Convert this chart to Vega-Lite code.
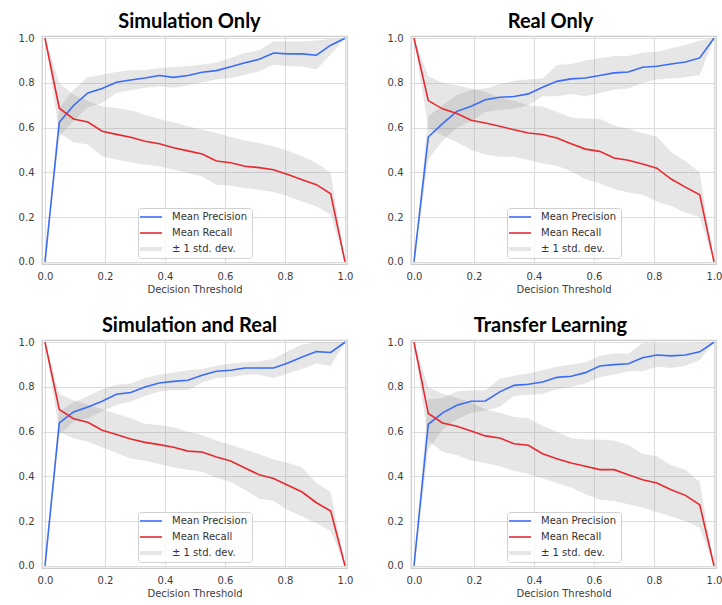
{
  "$schema": "https://vega.github.io/schema/vega-lite/v6.json",
  "autosize": {"type": "pad"},
  "padding": {"left": 17, "top": 11, "right": 0, "bottom": 0},
  "datasets": {
    "curves": [
      {"p":"Simulation Only","m":"Mean Precision","t":0,"v":0,"lo":0,"hi":0},
      {"p":"Simulation Only","m":"Mean Precision","t":0.0476,"v":0.624,"lo":0.56,"hi":0.69},
      {"p":"Simulation Only","m":"Mean Precision","t":0.0952,"v":0.699,"lo":0.63,"hi":0.77},
      {"p":"Simulation Only","m":"Mean Precision","t":0.1429,"v":0.755,"lo":0.69,"hi":0.825},
      {"p":"Simulation Only","m":"Mean Precision","t":0.1905,"v":0.775,"lo":0.71,"hi":0.837},
      {"p":"Simulation Only","m":"Mean Precision","t":0.2381,"v":0.803,"lo":0.755,"hi":0.849},
      {"p":"Simulation Only","m":"Mean Precision","t":0.2857,"v":0.813,"lo":0.767,"hi":0.857},
      {"p":"Simulation Only","m":"Mean Precision","t":0.3333,"v":0.822,"lo":0.778,"hi":0.858},
      {"p":"Simulation Only","m":"Mean Precision","t":0.381,"v":0.833,"lo":0.785,"hi":0.867},
      {"p":"Simulation Only","m":"Mean Precision","t":0.4286,"v":0.825,"lo":0.778,"hi":0.87},
      {"p":"Simulation Only","m":"Mean Precision","t":0.4762,"v":0.833,"lo":0.79,"hi":0.875},
      {"p":"Simulation Only","m":"Mean Precision","t":0.5238,"v":0.848,"lo":0.803,"hi":0.882},
      {"p":"Simulation Only","m":"Mean Precision","t":0.5714,"v":0.855,"lo":0.815,"hi":0.89},
      {"p":"Simulation Only","m":"Mean Precision","t":0.619,"v":0.872,"lo":0.822,"hi":0.912},
      {"p":"Simulation Only","m":"Mean Precision","t":0.6667,"v":0.89,"lo":0.837,"hi":0.934},
      {"p":"Simulation Only","m":"Mean Precision","t":0.7143,"v":0.906,"lo":0.852,"hi":0.946},
      {"p":"Simulation Only","m":"Mean Precision","t":0.7619,"v":0.934,"lo":0.882,"hi":0.985},
      {"p":"Simulation Only","m":"Mean Precision","t":0.8095,"v":0.93,"lo":0.875,"hi":0.985},
      {"p":"Simulation Only","m":"Mean Precision","t":0.8571,"v":0.93,"lo":0.873,"hi":0.985},
      {"p":"Simulation Only","m":"Mean Precision","t":0.9048,"v":0.924,"lo":0.86,"hi":0.99},
      {"p":"Simulation Only","m":"Mean Precision","t":0.9524,"v":0.969,"lo":0.927,"hi":0.997},
      {"p":"Simulation Only","m":"Mean Precision","t":1,"v":1,"lo":1,"hi":1},
      {"p":"Simulation Only","m":"Mean Recall","t":0,"v":1,"lo":1,"hi":1},
      {"p":"Simulation Only","m":"Mean Recall","t":0.0476,"v":0.687,"lo":0.576,"hi":0.8},
      {"p":"Simulation Only","m":"Mean Recall","t":0.0952,"v":0.639,"lo":0.535,"hi":0.748},
      {"p":"Simulation Only","m":"Mean Recall","t":0.1429,"v":0.625,"lo":0.525,"hi":0.718},
      {"p":"Simulation Only","m":"Mean Recall","t":0.1905,"v":0.584,"lo":0.472,"hi":0.696},
      {"p":"Simulation Only","m":"Mean Recall","t":0.2381,"v":0.57,"lo":0.457,"hi":0.688},
      {"p":"Simulation Only","m":"Mean Recall","t":0.2857,"v":0.557,"lo":0.445,"hi":0.678},
      {"p":"Simulation Only","m":"Mean Recall","t":0.3333,"v":0.539,"lo":0.434,"hi":0.658},
      {"p":"Simulation Only","m":"Mean Recall","t":0.381,"v":0.528,"lo":0.427,"hi":0.639},
      {"p":"Simulation Only","m":"Mean Recall","t":0.4286,"v":0.51,"lo":0.412,"hi":0.624},
      {"p":"Simulation Only","m":"Mean Recall","t":0.4762,"v":0.496,"lo":0.397,"hi":0.606},
      {"p":"Simulation Only","m":"Mean Recall","t":0.5238,"v":0.482,"lo":0.382,"hi":0.591},
      {"p":"Simulation Only","m":"Mean Recall","t":0.5714,"v":0.451,"lo":0.345,"hi":0.576},
      {"p":"Simulation Only","m":"Mean Recall","t":0.619,"v":0.443,"lo":0.34,"hi":0.558},
      {"p":"Simulation Only","m":"Mean Recall","t":0.6667,"v":0.427,"lo":0.33,"hi":0.543},
      {"p":"Simulation Only","m":"Mean Recall","t":0.7143,"v":0.421,"lo":0.322,"hi":0.531},
      {"p":"Simulation Only","m":"Mean Recall","t":0.7619,"v":0.412,"lo":0.312,"hi":0.516},
      {"p":"Simulation Only","m":"Mean Recall","t":0.8095,"v":0.39,"lo":0.293,"hi":0.497},
      {"p":"Simulation Only","m":"Mean Recall","t":0.8571,"v":0.367,"lo":0.27,"hi":0.472},
      {"p":"Simulation Only","m":"Mean Recall","t":0.9048,"v":0.345,"lo":0.248,"hi":0.442},
      {"p":"Simulation Only","m":"Mean Recall","t":0.9524,"v":0.304,"lo":0.21,"hi":0.397},
      {"p":"Simulation Only","m":"Mean Recall","t":1,"v":0,"lo":0,"hi":0},

      {"p":"Real Only","m":"Mean Precision","t":0,"v":0,"lo":0,"hi":0},
      {"p":"Real Only","m":"Mean Precision","t":0.0476,"v":0.558,"lo":0.46,"hi":0.65},
      {"p":"Real Only","m":"Mean Precision","t":0.0952,"v":0.618,"lo":0.54,"hi":0.7},
      {"p":"Real Only","m":"Mean Precision","t":0.1429,"v":0.673,"lo":0.6,"hi":0.745},
      {"p":"Real Only","m":"Mean Precision","t":0.1905,"v":0.696,"lo":0.63,"hi":0.77},
      {"p":"Real Only","m":"Mean Precision","t":0.2381,"v":0.725,"lo":0.67,"hi":0.775},
      {"p":"Real Only","m":"Mean Precision","t":0.2857,"v":0.736,"lo":0.68,"hi":0.795},
      {"p":"Real Only","m":"Mean Precision","t":0.3333,"v":0.739,"lo":0.685,"hi":0.81},
      {"p":"Real Only","m":"Mean Precision","t":0.381,"v":0.751,"lo":0.7,"hi":0.815},
      {"p":"Real Only","m":"Mean Precision","t":0.4286,"v":0.781,"lo":0.74,"hi":0.82},
      {"p":"Real Only","m":"Mean Precision","t":0.4762,"v":0.807,"lo":0.74,"hi":0.88},
      {"p":"Real Only","m":"Mean Precision","t":0.5238,"v":0.818,"lo":0.75,"hi":0.885},
      {"p":"Real Only","m":"Mean Precision","t":0.5714,"v":0.822,"lo":0.74,"hi":0.9},
      {"p":"Real Only","m":"Mean Precision","t":0.619,"v":0.833,"lo":0.755,"hi":0.91},
      {"p":"Real Only","m":"Mean Precision","t":0.6667,"v":0.845,"lo":0.77,"hi":0.92},
      {"p":"Real Only","m":"Mean Precision","t":0.7143,"v":0.849,"lo":0.775,"hi":0.92},
      {"p":"Real Only","m":"Mean Precision","t":0.7619,"v":0.87,"lo":0.8,"hi":0.935},
      {"p":"Real Only","m":"Mean Precision","t":0.8095,"v":0.875,"lo":0.815,"hi":0.94},
      {"p":"Real Only","m":"Mean Precision","t":0.8571,"v":0.885,"lo":0.82,"hi":0.955},
      {"p":"Real Only","m":"Mean Precision","t":0.9048,"v":0.894,"lo":0.825,"hi":0.97},
      {"p":"Real Only","m":"Mean Precision","t":0.9524,"v":0.912,"lo":0.835,"hi":0.99},
      {"p":"Real Only","m":"Mean Precision","t":1,"v":1,"lo":1,"hi":1},
      {"p":"Real Only","m":"Mean Recall","t":0,"v":1,"lo":1,"hi":1},
      {"p":"Real Only","m":"Mean Recall","t":0.0476,"v":0.721,"lo":0.6,"hi":0.83},
      {"p":"Real Only","m":"Mean Recall","t":0.0952,"v":0.684,"lo":0.565,"hi":0.8},
      {"p":"Real Only","m":"Mean Recall","t":0.1429,"v":0.663,"lo":0.535,"hi":0.79},
      {"p":"Real Only","m":"Mean Recall","t":0.1905,"v":0.633,"lo":0.5,"hi":0.775},
      {"p":"Real Only","m":"Mean Recall","t":0.2381,"v":0.621,"lo":0.48,"hi":0.76},
      {"p":"Real Only","m":"Mean Recall","t":0.2857,"v":0.606,"lo":0.47,"hi":0.735},
      {"p":"Real Only","m":"Mean Recall","t":0.3333,"v":0.591,"lo":0.47,"hi":0.72},
      {"p":"Real Only","m":"Mean Recall","t":0.381,"v":0.576,"lo":0.455,"hi":0.7},
      {"p":"Real Only","m":"Mean Recall","t":0.4286,"v":0.569,"lo":0.44,"hi":0.695},
      {"p":"Real Only","m":"Mean Recall","t":0.4762,"v":0.554,"lo":0.43,"hi":0.67},
      {"p":"Real Only","m":"Mean Recall","t":0.5238,"v":0.528,"lo":0.405,"hi":0.645},
      {"p":"Real Only","m":"Mean Recall","t":0.5714,"v":0.504,"lo":0.37,"hi":0.64},
      {"p":"Real Only","m":"Mean Recall","t":0.619,"v":0.494,"lo":0.35,"hi":0.64},
      {"p":"Real Only","m":"Mean Recall","t":0.6667,"v":0.464,"lo":0.325,"hi":0.61},
      {"p":"Real Only","m":"Mean Recall","t":0.7143,"v":0.454,"lo":0.31,"hi":0.595},
      {"p":"Real Only","m":"Mean Recall","t":0.7619,"v":0.437,"lo":0.3,"hi":0.575},
      {"p":"Real Only","m":"Mean Recall","t":0.8095,"v":0.419,"lo":0.27,"hi":0.56},
      {"p":"Real Only","m":"Mean Recall","t":0.8571,"v":0.37,"lo":0.25,"hi":0.49},
      {"p":"Real Only","m":"Mean Recall","t":0.9048,"v":0.334,"lo":0.22,"hi":0.45},
      {"p":"Real Only","m":"Mean Recall","t":0.9524,"v":0.3,"lo":0.2,"hi":0.4},
      {"p":"Real Only","m":"Mean Recall","t":1,"v":0,"lo":0,"hi":0},

      {"p":"Simulation and Real","m":"Mean Precision","t":0,"v":0,"lo":0,"hi":0},
      {"p":"Simulation and Real","m":"Mean Precision","t":0.0476,"v":0.639,"lo":0.585,"hi":0.69},
      {"p":"Simulation and Real","m":"Mean Precision","t":0.0952,"v":0.688,"lo":0.645,"hi":0.73},
      {"p":"Simulation and Real","m":"Mean Precision","t":0.1429,"v":0.71,"lo":0.66,"hi":0.76},
      {"p":"Simulation and Real","m":"Mean Precision","t":0.1905,"v":0.736,"lo":0.69,"hi":0.79},
      {"p":"Simulation and Real","m":"Mean Precision","t":0.2381,"v":0.767,"lo":0.72,"hi":0.81},
      {"p":"Simulation and Real","m":"Mean Precision","t":0.2857,"v":0.775,"lo":0.735,"hi":0.815},
      {"p":"Simulation and Real","m":"Mean Precision","t":0.3333,"v":0.8,"lo":0.76,"hi":0.84},
      {"p":"Simulation and Real","m":"Mean Precision","t":0.381,"v":0.818,"lo":0.78,"hi":0.855},
      {"p":"Simulation and Real","m":"Mean Precision","t":0.4286,"v":0.825,"lo":0.785,"hi":0.865},
      {"p":"Simulation and Real","m":"Mean Precision","t":0.4762,"v":0.83,"lo":0.785,"hi":0.875},
      {"p":"Simulation and Real","m":"Mean Precision","t":0.5238,"v":0.852,"lo":0.82,"hi":0.88},
      {"p":"Simulation and Real","m":"Mean Precision","t":0.5714,"v":0.87,"lo":0.84,"hi":0.895},
      {"p":"Simulation and Real","m":"Mean Precision","t":0.619,"v":0.875,"lo":0.845,"hi":0.905},
      {"p":"Simulation and Real","m":"Mean Precision","t":0.6667,"v":0.885,"lo":0.855,"hi":0.91},
      {"p":"Simulation and Real","m":"Mean Precision","t":0.7143,"v":0.885,"lo":0.855,"hi":0.915},
      {"p":"Simulation and Real","m":"Mean Precision","t":0.7619,"v":0.885,"lo":0.84,"hi":0.925},
      {"p":"Simulation and Real","m":"Mean Precision","t":0.8095,"v":0.907,"lo":0.86,"hi":0.96},
      {"p":"Simulation and Real","m":"Mean Precision","t":0.8571,"v":0.934,"lo":0.88,"hi":0.99},
      {"p":"Simulation and Real","m":"Mean Precision","t":0.9048,"v":0.958,"lo":0.905,"hi":1},
      {"p":"Simulation and Real","m":"Mean Precision","t":0.9524,"v":0.954,"lo":0.895,"hi":1},
      {"p":"Simulation and Real","m":"Mean Precision","t":1,"v":1,"lo":1,"hi":1},
      {"p":"Simulation and Real","m":"Mean Recall","t":0,"v":1,"lo":1,"hi":1},
      {"p":"Simulation and Real","m":"Mean Recall","t":0.0476,"v":0.699,"lo":0.6,"hi":0.77},
      {"p":"Simulation and Real","m":"Mean Recall","t":0.0952,"v":0.658,"lo":0.57,"hi":0.74},
      {"p":"Simulation and Real","m":"Mean Recall","t":0.1429,"v":0.642,"lo":0.555,"hi":0.72},
      {"p":"Simulation and Real","m":"Mean Recall","t":0.1905,"v":0.606,"lo":0.53,"hi":0.7},
      {"p":"Simulation and Real","m":"Mean Recall","t":0.2381,"v":0.587,"lo":0.505,"hi":0.68},
      {"p":"Simulation and Real","m":"Mean Recall","t":0.2857,"v":0.567,"lo":0.48,"hi":0.66},
      {"p":"Simulation and Real","m":"Mean Recall","t":0.3333,"v":0.552,"lo":0.47,"hi":0.635},
      {"p":"Simulation and Real","m":"Mean Recall","t":0.381,"v":0.542,"lo":0.455,"hi":0.63},
      {"p":"Simulation and Real","m":"Mean Recall","t":0.4286,"v":0.53,"lo":0.44,"hi":0.62},
      {"p":"Simulation and Real","m":"Mean Recall","t":0.4762,"v":0.513,"lo":0.43,"hi":0.6},
      {"p":"Simulation and Real","m":"Mean Recall","t":0.5238,"v":0.509,"lo":0.42,"hi":0.585},
      {"p":"Simulation and Real","m":"Mean Recall","t":0.5714,"v":0.487,"lo":0.395,"hi":0.56},
      {"p":"Simulation and Real","m":"Mean Recall","t":0.619,"v":0.469,"lo":0.375,"hi":0.54},
      {"p":"Simulation and Real","m":"Mean Recall","t":0.6667,"v":0.437,"lo":0.34,"hi":0.52},
      {"p":"Simulation and Real","m":"Mean Recall","t":0.7143,"v":0.407,"lo":0.3,"hi":0.5},
      {"p":"Simulation and Real","m":"Mean Recall","t":0.7619,"v":0.39,"lo":0.29,"hi":0.475},
      {"p":"Simulation and Real","m":"Mean Recall","t":0.8095,"v":0.36,"lo":0.25,"hi":0.46},
      {"p":"Simulation and Real","m":"Mean Recall","t":0.8571,"v":0.33,"lo":0.22,"hi":0.44},
      {"p":"Simulation and Real","m":"Mean Recall","t":0.9048,"v":0.282,"lo":0.19,"hi":0.37},
      {"p":"Simulation and Real","m":"Mean Recall","t":0.9524,"v":0.245,"lo":0.155,"hi":0.33},
      {"p":"Simulation and Real","m":"Mean Recall","t":1,"v":0,"lo":0,"hi":0},

      {"p":"Transfer Learning","m":"Mean Precision","t":0,"v":0,"lo":0,"hi":0},
      {"p":"Transfer Learning","m":"Mean Precision","t":0.0476,"v":0.633,"lo":0.52,"hi":0.745},
      {"p":"Transfer Learning","m":"Mean Precision","t":0.0952,"v":0.684,"lo":0.61,"hi":0.75},
      {"p":"Transfer Learning","m":"Mean Precision","t":0.1429,"v":0.718,"lo":0.655,"hi":0.78},
      {"p":"Transfer Learning","m":"Mean Precision","t":0.1905,"v":0.736,"lo":0.685,"hi":0.785},
      {"p":"Transfer Learning","m":"Mean Precision","t":0.2381,"v":0.737,"lo":0.695,"hi":0.785},
      {"p":"Transfer Learning","m":"Mean Precision","t":0.2857,"v":0.778,"lo":0.71,"hi":0.835},
      {"p":"Transfer Learning","m":"Mean Precision","t":0.3333,"v":0.807,"lo":0.76,"hi":0.85},
      {"p":"Transfer Learning","m":"Mean Precision","t":0.381,"v":0.812,"lo":0.765,"hi":0.86},
      {"p":"Transfer Learning","m":"Mean Precision","t":0.4286,"v":0.822,"lo":0.77,"hi":0.875},
      {"p":"Transfer Learning","m":"Mean Precision","t":0.4762,"v":0.843,"lo":0.79,"hi":0.89},
      {"p":"Transfer Learning","m":"Mean Precision","t":0.5238,"v":0.848,"lo":0.8,"hi":0.9},
      {"p":"Transfer Learning","m":"Mean Precision","t":0.5714,"v":0.864,"lo":0.815,"hi":0.91},
      {"p":"Transfer Learning","m":"Mean Precision","t":0.619,"v":0.894,"lo":0.845,"hi":0.94},
      {"p":"Transfer Learning","m":"Mean Precision","t":0.6667,"v":0.9,"lo":0.855,"hi":0.95},
      {"p":"Transfer Learning","m":"Mean Precision","t":0.7143,"v":0.904,"lo":0.87,"hi":0.95},
      {"p":"Transfer Learning","m":"Mean Precision","t":0.7619,"v":0.931,"lo":0.87,"hi":0.995},
      {"p":"Transfer Learning","m":"Mean Precision","t":0.8095,"v":0.943,"lo":0.89,"hi":0.995},
      {"p":"Transfer Learning","m":"Mean Precision","t":0.8571,"v":0.939,"lo":0.885,"hi":0.995},
      {"p":"Transfer Learning","m":"Mean Precision","t":0.9048,"v":0.943,"lo":0.895,"hi":0.995},
      {"p":"Transfer Learning","m":"Mean Precision","t":0.9524,"v":0.957,"lo":0.92,"hi":0.997},
      {"p":"Transfer Learning","m":"Mean Precision","t":1,"v":1,"lo":1,"hi":1},
      {"p":"Transfer Learning","m":"Mean Recall","t":0,"v":1,"lo":1,"hi":1},
      {"p":"Transfer Learning","m":"Mean Recall","t":0.0476,"v":0.681,"lo":0.56,"hi":0.8},
      {"p":"Transfer Learning","m":"Mean Recall","t":0.0952,"v":0.639,"lo":0.51,"hi":0.77},
      {"p":"Transfer Learning","m":"Mean Recall","t":0.1429,"v":0.624,"lo":0.495,"hi":0.75},
      {"p":"Transfer Learning","m":"Mean Recall","t":0.1905,"v":0.603,"lo":0.47,"hi":0.73},
      {"p":"Transfer Learning","m":"Mean Recall","t":0.2381,"v":0.581,"lo":0.46,"hi":0.7},
      {"p":"Transfer Learning","m":"Mean Recall","t":0.2857,"v":0.572,"lo":0.445,"hi":0.685},
      {"p":"Transfer Learning","m":"Mean Recall","t":0.3333,"v":0.546,"lo":0.425,"hi":0.665},
      {"p":"Transfer Learning","m":"Mean Recall","t":0.381,"v":0.539,"lo":0.41,"hi":0.66},
      {"p":"Transfer Learning","m":"Mean Recall","t":0.4286,"v":0.501,"lo":0.39,"hi":0.625},
      {"p":"Transfer Learning","m":"Mean Recall","t":0.4762,"v":0.479,"lo":0.37,"hi":0.6},
      {"p":"Transfer Learning","m":"Mean Recall","t":0.5238,"v":0.46,"lo":0.35,"hi":0.57},
      {"p":"Transfer Learning","m":"Mean Recall","t":0.5714,"v":0.445,"lo":0.32,"hi":0.565},
      {"p":"Transfer Learning","m":"Mean Recall","t":0.619,"v":0.43,"lo":0.295,"hi":0.565},
      {"p":"Transfer Learning","m":"Mean Recall","t":0.6667,"v":0.43,"lo":0.29,"hi":0.56},
      {"p":"Transfer Learning","m":"Mean Recall","t":0.7143,"v":0.407,"lo":0.275,"hi":0.54},
      {"p":"Transfer Learning","m":"Mean Recall","t":0.7619,"v":0.385,"lo":0.26,"hi":0.5},
      {"p":"Transfer Learning","m":"Mean Recall","t":0.8095,"v":0.37,"lo":0.24,"hi":0.49},
      {"p":"Transfer Learning","m":"Mean Recall","t":0.8571,"v":0.34,"lo":0.22,"hi":0.45},
      {"p":"Transfer Learning","m":"Mean Recall","t":0.9048,"v":0.315,"lo":0.2,"hi":0.43},
      {"p":"Transfer Learning","m":"Mean Recall","t":0.9524,"v":0.273,"lo":0.17,"hi":0.375},
      {"p":"Transfer Learning","m":"Mean Recall","t":1,"v":0,"lo":0,"hi":0}
    ]
  },
  "data": {"name": "curves"},
  "columns": 2,
  "spacing": {"row": 76, "column": 64},
  "bounds": "flush",
  "resolve": {"scale": {"color": "independent"}, "legend": {"color": "independent"}},
  "concat": [
    {
      "title": {"text": "Simulation Only", "dx": -5},
      "width": 305, "height": 228,
      "transform": [{"filter": "datum.p === 'Simulation Only'"}],
      "layer": [
        {"mark": {"type": "area", "fill": "#808080", "fillOpacity": 0.2},
         "encoding": {
           "x": {"field": "t", "type": "quantitative", "scale": {"domain": [-0.01, 1.0067], "nice": false, "zero": false}, "axis": {"values": [0, 0.2, 0.4, 0.6, 0.8, 1], "format": ".1f", "title": "Decision Threshold"}},
           "y": {"field": "lo", "type": "quantitative", "scale": {"domain": [-0.01, 1.01], "nice": false, "zero": false}, "axis": {"values": [0, 0.2, 0.4, 0.6, 0.8, 1], "format": ".1f", "title": null}},
           "y2": {"field": "hi"},
           "detail": {"field": "m", "type": "nominal"}}},
        {"mark": {"type": "line", "strokeWidth": 1.6},
         "encoding": {
           "x": {"field": "t", "type": "quantitative"},
           "y": {"field": "v", "type": "quantitative", "axis": {"values": [0, 0.2, 0.4, 0.6, 0.8, 1], "format": ".1f", "title": null}},
           "color": {"field": "m", "type": "nominal",
             "scale": {"domain": ["Mean Precision", "Mean Recall", "± 1 std. dev."], "range": ["#3b6cf5", "#e62a30", "#e6e6e6"]},
             "legend": {"encode": {"symbols": {"update": {
               "shape": {"signal": "datum.label === '± 1 std. dev.' ? 'M-2.2,-0.4H2.2V0.4H-2.2Z' : 'M-2.2,0H2.2'"},
               "fill": {"signal": "datum.label === '± 1 std. dev.' ? '#e6e6e6' : 'transparent'"},
               "strokeWidth": {"signal": "datum.label === '± 1 std. dev.' ? 0 : 1.6"}}}}}}}}
      ]
    },
    {
      "title": {"text": "Real Only", "dx": -13},
      "width": 305, "height": 228,
      "transform": [{"filter": "datum.p === 'Real Only'"}],
      "layer": [
        {"mark": {"type": "area", "fill": "#808080", "fillOpacity": 0.2},
         "encoding": {
           "x": {"field": "t", "type": "quantitative", "scale": {"domain": [-0.01, 1.0067], "nice": false, "zero": false}, "axis": {"values": [0, 0.2, 0.4, 0.6, 0.8, 1], "format": ".1f", "title": "Decision Threshold"}},
           "y": {"field": "lo", "type": "quantitative", "scale": {"domain": [-0.01, 1.01], "nice": false, "zero": false}, "axis": {"values": [0, 0.2, 0.4, 0.6, 0.8, 1], "format": ".1f", "title": null}},
           "y2": {"field": "hi"},
           "detail": {"field": "m", "type": "nominal"}}},
        {"mark": {"type": "line", "strokeWidth": 1.6},
         "encoding": {
           "x": {"field": "t", "type": "quantitative"},
           "y": {"field": "v", "type": "quantitative", "axis": {"values": [0, 0.2, 0.4, 0.6, 0.8, 1], "format": ".1f", "title": null}},
           "color": {"field": "m", "type": "nominal",
             "scale": {"domain": ["Mean Precision", "Mean Recall", "± 1 std. dev."], "range": ["#3b6cf5", "#e62a30", "#e6e6e6"]},
             "legend": {"encode": {"symbols": {"update": {
               "shape": {"signal": "datum.label === '± 1 std. dev.' ? 'M-2.2,-0.4H2.2V0.4H-2.2Z' : 'M-2.2,0H2.2'"},
               "fill": {"signal": "datum.label === '± 1 std. dev.' ? '#e6e6e6' : 'transparent'"},
               "strokeWidth": {"signal": "datum.label === '± 1 std. dev.' ? 0 : 1.6"}}}}}}}}
      ]
    },
    {
      "title": {"text": "Simulation and Real", "dx": -5},
      "width": 305, "height": 228,
      "transform": [{"filter": "datum.p === 'Simulation and Real'"}],
      "layer": [
        {"mark": {"type": "area", "fill": "#808080", "fillOpacity": 0.2},
         "encoding": {
           "x": {"field": "t", "type": "quantitative", "scale": {"domain": [-0.01, 1.0067], "nice": false, "zero": false}, "axis": {"values": [0, 0.2, 0.4, 0.6, 0.8, 1], "format": ".1f", "title": "Decision Threshold"}},
           "y": {"field": "lo", "type": "quantitative", "scale": {"domain": [-0.01, 1.01], "nice": false, "zero": false}, "axis": {"values": [0, 0.2, 0.4, 0.6, 0.8, 1], "format": ".1f", "title": null}},
           "y2": {"field": "hi"},
           "detail": {"field": "m", "type": "nominal"}}},
        {"mark": {"type": "line", "strokeWidth": 1.6},
         "encoding": {
           "x": {"field": "t", "type": "quantitative"},
           "y": {"field": "v", "type": "quantitative", "axis": {"values": [0, 0.2, 0.4, 0.6, 0.8, 1], "format": ".1f", "title": null}},
           "color": {"field": "m", "type": "nominal",
             "scale": {"domain": ["Mean Precision", "Mean Recall", "± 1 std. dev."], "range": ["#3b6cf5", "#e62a30", "#e6e6e6"]},
             "legend": {"encode": {"symbols": {"update": {
               "shape": {"signal": "datum.label === '± 1 std. dev.' ? 'M-2.2,-0.4H2.2V0.4H-2.2Z' : 'M-2.2,0H2.2'"},
               "fill": {"signal": "datum.label === '± 1 std. dev.' ? '#e6e6e6' : 'transparent'"},
               "strokeWidth": {"signal": "datum.label === '± 1 std. dev.' ? 0 : 1.6"}}}}}}}}
      ]
    },
    {
      "title": {"text": "Transfer Learning", "dx": -13},
      "width": 305, "height": 228,
      "transform": [{"filter": "datum.p === 'Transfer Learning'"}],
      "layer": [
        {"mark": {"type": "area", "fill": "#808080", "fillOpacity": 0.2},
         "encoding": {
           "x": {"field": "t", "type": "quantitative", "scale": {"domain": [-0.01, 1.0067], "nice": false, "zero": false}, "axis": {"values": [0, 0.2, 0.4, 0.6, 0.8, 1], "format": ".1f", "title": "Decision Threshold"}},
           "y": {"field": "lo", "type": "quantitative", "scale": {"domain": [-0.01, 1.01], "nice": false, "zero": false}, "axis": {"values": [0, 0.2, 0.4, 0.6, 0.8, 1], "format": ".1f", "title": null}},
           "y2": {"field": "hi"},
           "detail": {"field": "m", "type": "nominal"}}},
        {"mark": {"type": "line", "strokeWidth": 1.6},
         "encoding": {
           "x": {"field": "t", "type": "quantitative"},
           "y": {"field": "v", "type": "quantitative", "axis": {"values": [0, 0.2, 0.4, 0.6, 0.8, 1], "format": ".1f", "title": null}},
           "color": {"field": "m", "type": "nominal",
             "scale": {"domain": ["Mean Precision", "Mean Recall", "± 1 std. dev."], "range": ["#3b6cf5", "#e62a30", "#e6e6e6"]},
             "legend": {"encode": {"symbols": {"update": {
               "shape": {"signal": "datum.label === '± 1 std. dev.' ? 'M-2.2,-0.4H2.2V0.4H-2.2Z' : 'M-2.2,0H2.2'"},
               "fill": {"signal": "datum.label === '± 1 std. dev.' ? '#e6e6e6' : 'transparent'"},
               "strokeWidth": {"signal": "datum.label === '± 1 std. dev.' ? 0 : 1.6"}}}}}}}}
      ]
    }
  ],
  "config": {
    "font": "DejaVu Sans",
    "view": {"stroke": "#cccccc", "strokeWidth": 1.25},
    "axis": {
      "grid": true, "gridColor": "#dcdcdc", "gridWidth": 1,
      "ticks": false, "domain": false,
      "labelFont": "DejaVu Sans", "labelFontSize": 10, "labelColor": "#3c3c3c",
      "labelFlush": false, "labelOverlap": false, "labelBound": false,
      "titleFont": "DejaVu Sans", "titleFontSize": 10, "titleFontWeight": "normal", "titleColor": "#3c3c3c"
    },
    "axisX": {"labelPadding": 7, "titlePadding": 3},
    "axisY": {"labelPadding": 8},
    "title": {"font": "Lato", "fontSize": 20, "fontWeight": "bold", "color": "#000000", "anchor": "middle", "baseline": "alphabetic", "offset": 1},
    "legend": {
      "orient": "none", "legendX": 96, "legendY": 172,
      "title": null,
      "padding": 4, "rowPadding": 6, "labelOffset": 16,
      "symbolType": "stroke", "symbolSize": 100, "symbolOffset": 4, "symbolStrokeWidth": 1.6,
      "labelFont": "DejaVu Sans", "labelFontSize": 10, "labelColor": "#333333",
      "fillColor": "rgba(255,255,255,0.8)", "strokeColor": "#d0d0d0", "cornerRadius": 3
    }
  }
}
